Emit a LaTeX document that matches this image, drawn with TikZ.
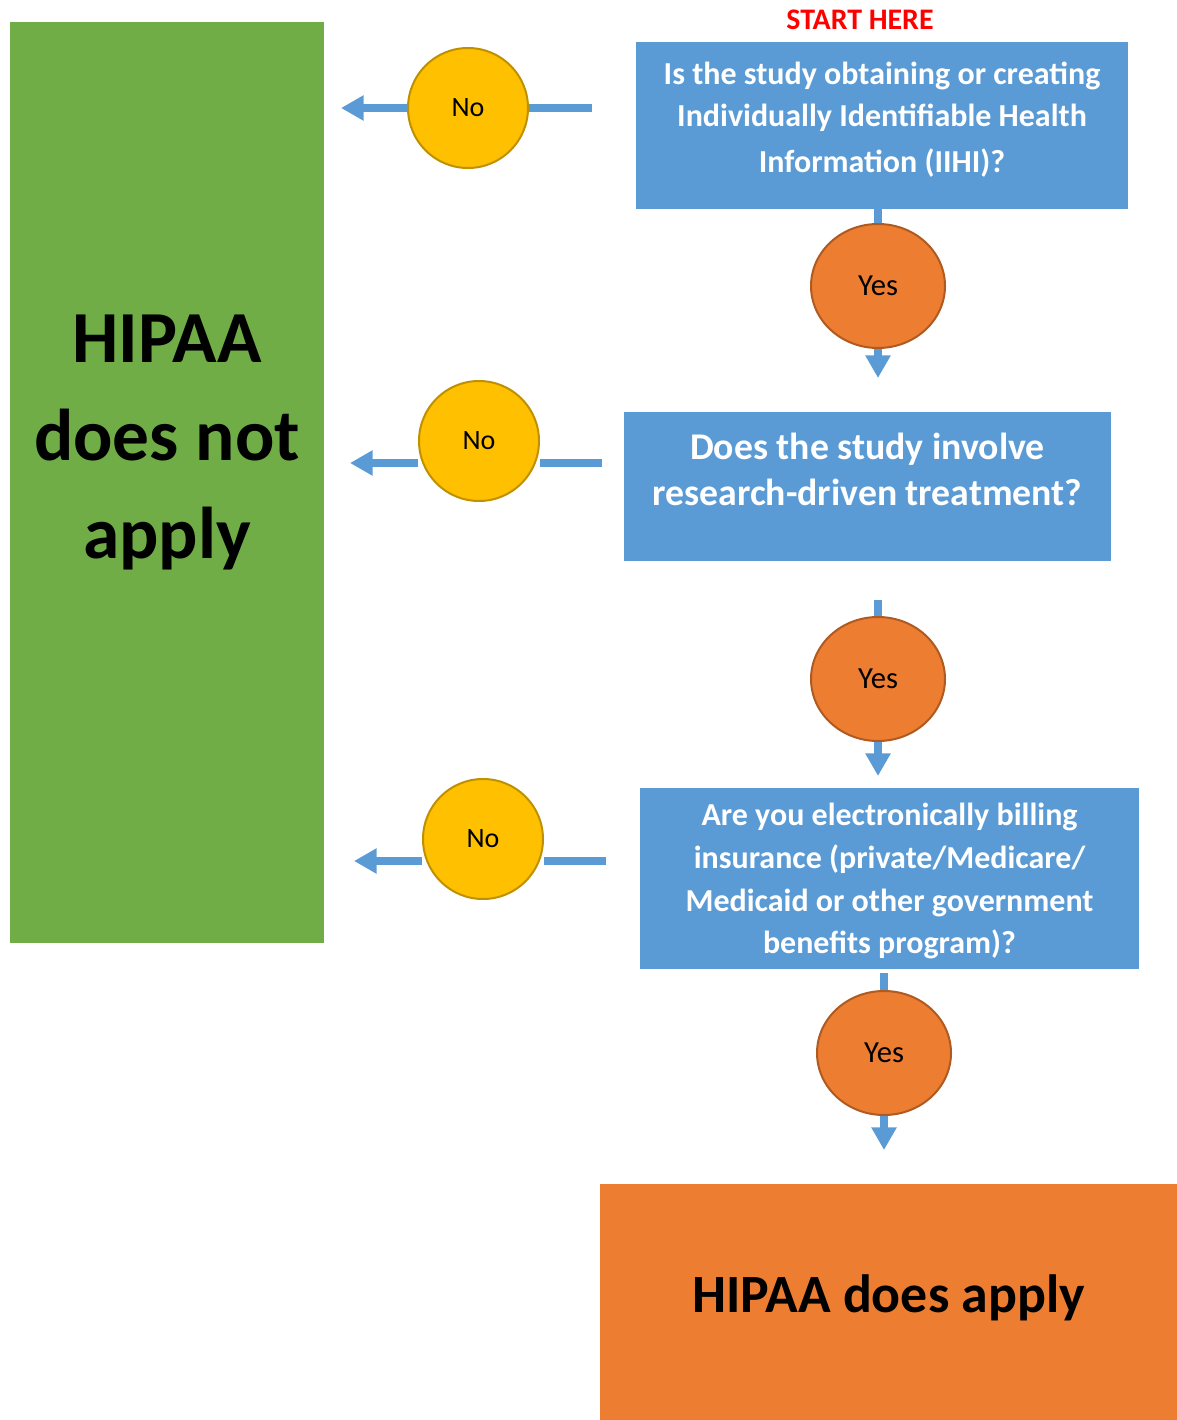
\documentclass[tikz,border=0pt]{standalone}
\usepackage{fontspec}
\setmainfont{Carlito}
\usetikzlibrary{arrows.meta,shapes.geometric,backgrounds}
\definecolor{qblue}{HTML}{5B9BD5}
\definecolor{okgreen}{HTML}{70AD47}
\definecolor{yesorange}{HTML}{ED7D31}
\definecolor{yesedge}{HTML}{AE5A21}
\definecolor{nogold}{HTML}{FFC000}
\definecolor{noedge}{HTML}{BF9000}
\definecolor{startred}{HTML}{FF0000}

\begin{document}
\begin{tikzpicture}[x=0.75pt, y=-0.75pt,
    qbox/.style={rectangle, fill=qblue, text=white, align=center, inner sep=0pt},
    yesnode/.style={ellipse, draw=yesedge, line width=1.5pt, fill=yesorange, minimum width=100.5pt, minimum height=93pt, font=\fontsize{23}{27}\selectfont},
    nonode/.style={circle, draw=noedge, line width=1.5pt, fill=nogold, minimum size=90pt, font=\fontsize{21}{25}\selectfont},
    flow/.style={draw=qblue, line width=6pt},
    flowarrow/.style={flow, -{Triangle[width=18pt, length=17pt]}}]

    \useasboundingbox (0,0) rectangle (1177,1420);

    \node[rectangle, fill=okgreen, minimum width=235.5pt, minimum height=690.75pt] (notapply) at (167,482.5) {};
    \node[align=center, font=\bfseries\fontsize{55}{73.5}\selectfont] (notapplytext) at (167,442) {HIPAA\\does not\\apply};

    \node[text=startred, font=\bfseries\fontsize{22.4}{26}\selectfont] (start) at (860,20) {START HERE};
    \node[qbox, minimum width=369pt, minimum height=125.25pt, text depth=12pt, font=\bfseries\fontsize{24}{31.5}\selectfont] (q1) at (882,125.5)
        {Is the study obtaining or creating\\Individually Identifiable Health\\[3pt]Information (IIHI)?};
    \node[qbox, minimum width=365.25pt, minimum height=111.75pt, text depth=26pt, font=\bfseries\fontsize{28.3}{35}\selectfont] (q2) at (867.5,486.5)
        {Does the study involve\\research-driven treatment?};
    \node[qbox, minimum width=374.25pt, minimum height=135.75pt, text depth=0pt, font=\bfseries\fontsize{24}{32}\selectfont] (q3) at (889.5,878.5)
        {Are you electronically billing\\insurance (private/Medicare/\\Medicaid or other government\\benefits program)?};
    \node[rectangle, fill=yesorange, minimum width=432.75pt, minimum height=177pt, text depth=12pt, font=\bfseries\fontsize{40.4}{48}\selectfont] (applies) at (888.5,1302) {HIPAA does apply};

    \node[yesnode] (yes1) at (878,286) {Yes};
    \node[yesnode] (yes2) at (878,679) {Yes};
    \node[yesnode] (yes3) at (884,1053) {Yes};
    \node[nonode] (no1) at (468,108) {No};
    \node[nonode] (no2) at (479,441) {No};
    \node[nonode] (no3) at (483,839) {No};

    \coordinate (t1) at (878,378);
    \coordinate (s2) at (878,600);
    \coordinate (t2) at (878,776);
    \coordinate (s3) at (884,973);
    \coordinate (t3) at (884,1150);
    \coordinate (n1s) at (592,108);
    \coordinate (n1t) at (341,108);
    \coordinate (n2s) at (602,463);
    \coordinate (n2t) at (350,463);
    \coordinate (n3s) at (606,861);
    \coordinate (n3t) at (354,861);

    % connectors behind the circles
    \begin{scope}[on background layer]
        \draw[flow] (yes1 |- q1.south) -- (yes1.north);
        \draw[flowarrow] (yes1.south) -- (t1);
        \draw[flow] (s2) -- (yes2.north);
        \draw[flowarrow] (yes2.south) -- (t2);
        \draw[flow] (s3) -- (yes3.north);
        \draw[flowarrow] (yes3.south) -- (t3);
        \draw[flow] (n1s) -- (no1.east);
        \draw[flowarrow] (no1.west) -- (n1t);
        \draw[flow] (n2s) -- (n2s -| no2.east);
        \draw[flowarrow] (n2s -| no2.west) -- (n2t);
        \draw[flow] (n3s) -- (n3s -| no3.east);
        \draw[flowarrow] (n3s -| no3.west) -- (n3t);
    \end{scope}
\end{tikzpicture}
\end{document}
